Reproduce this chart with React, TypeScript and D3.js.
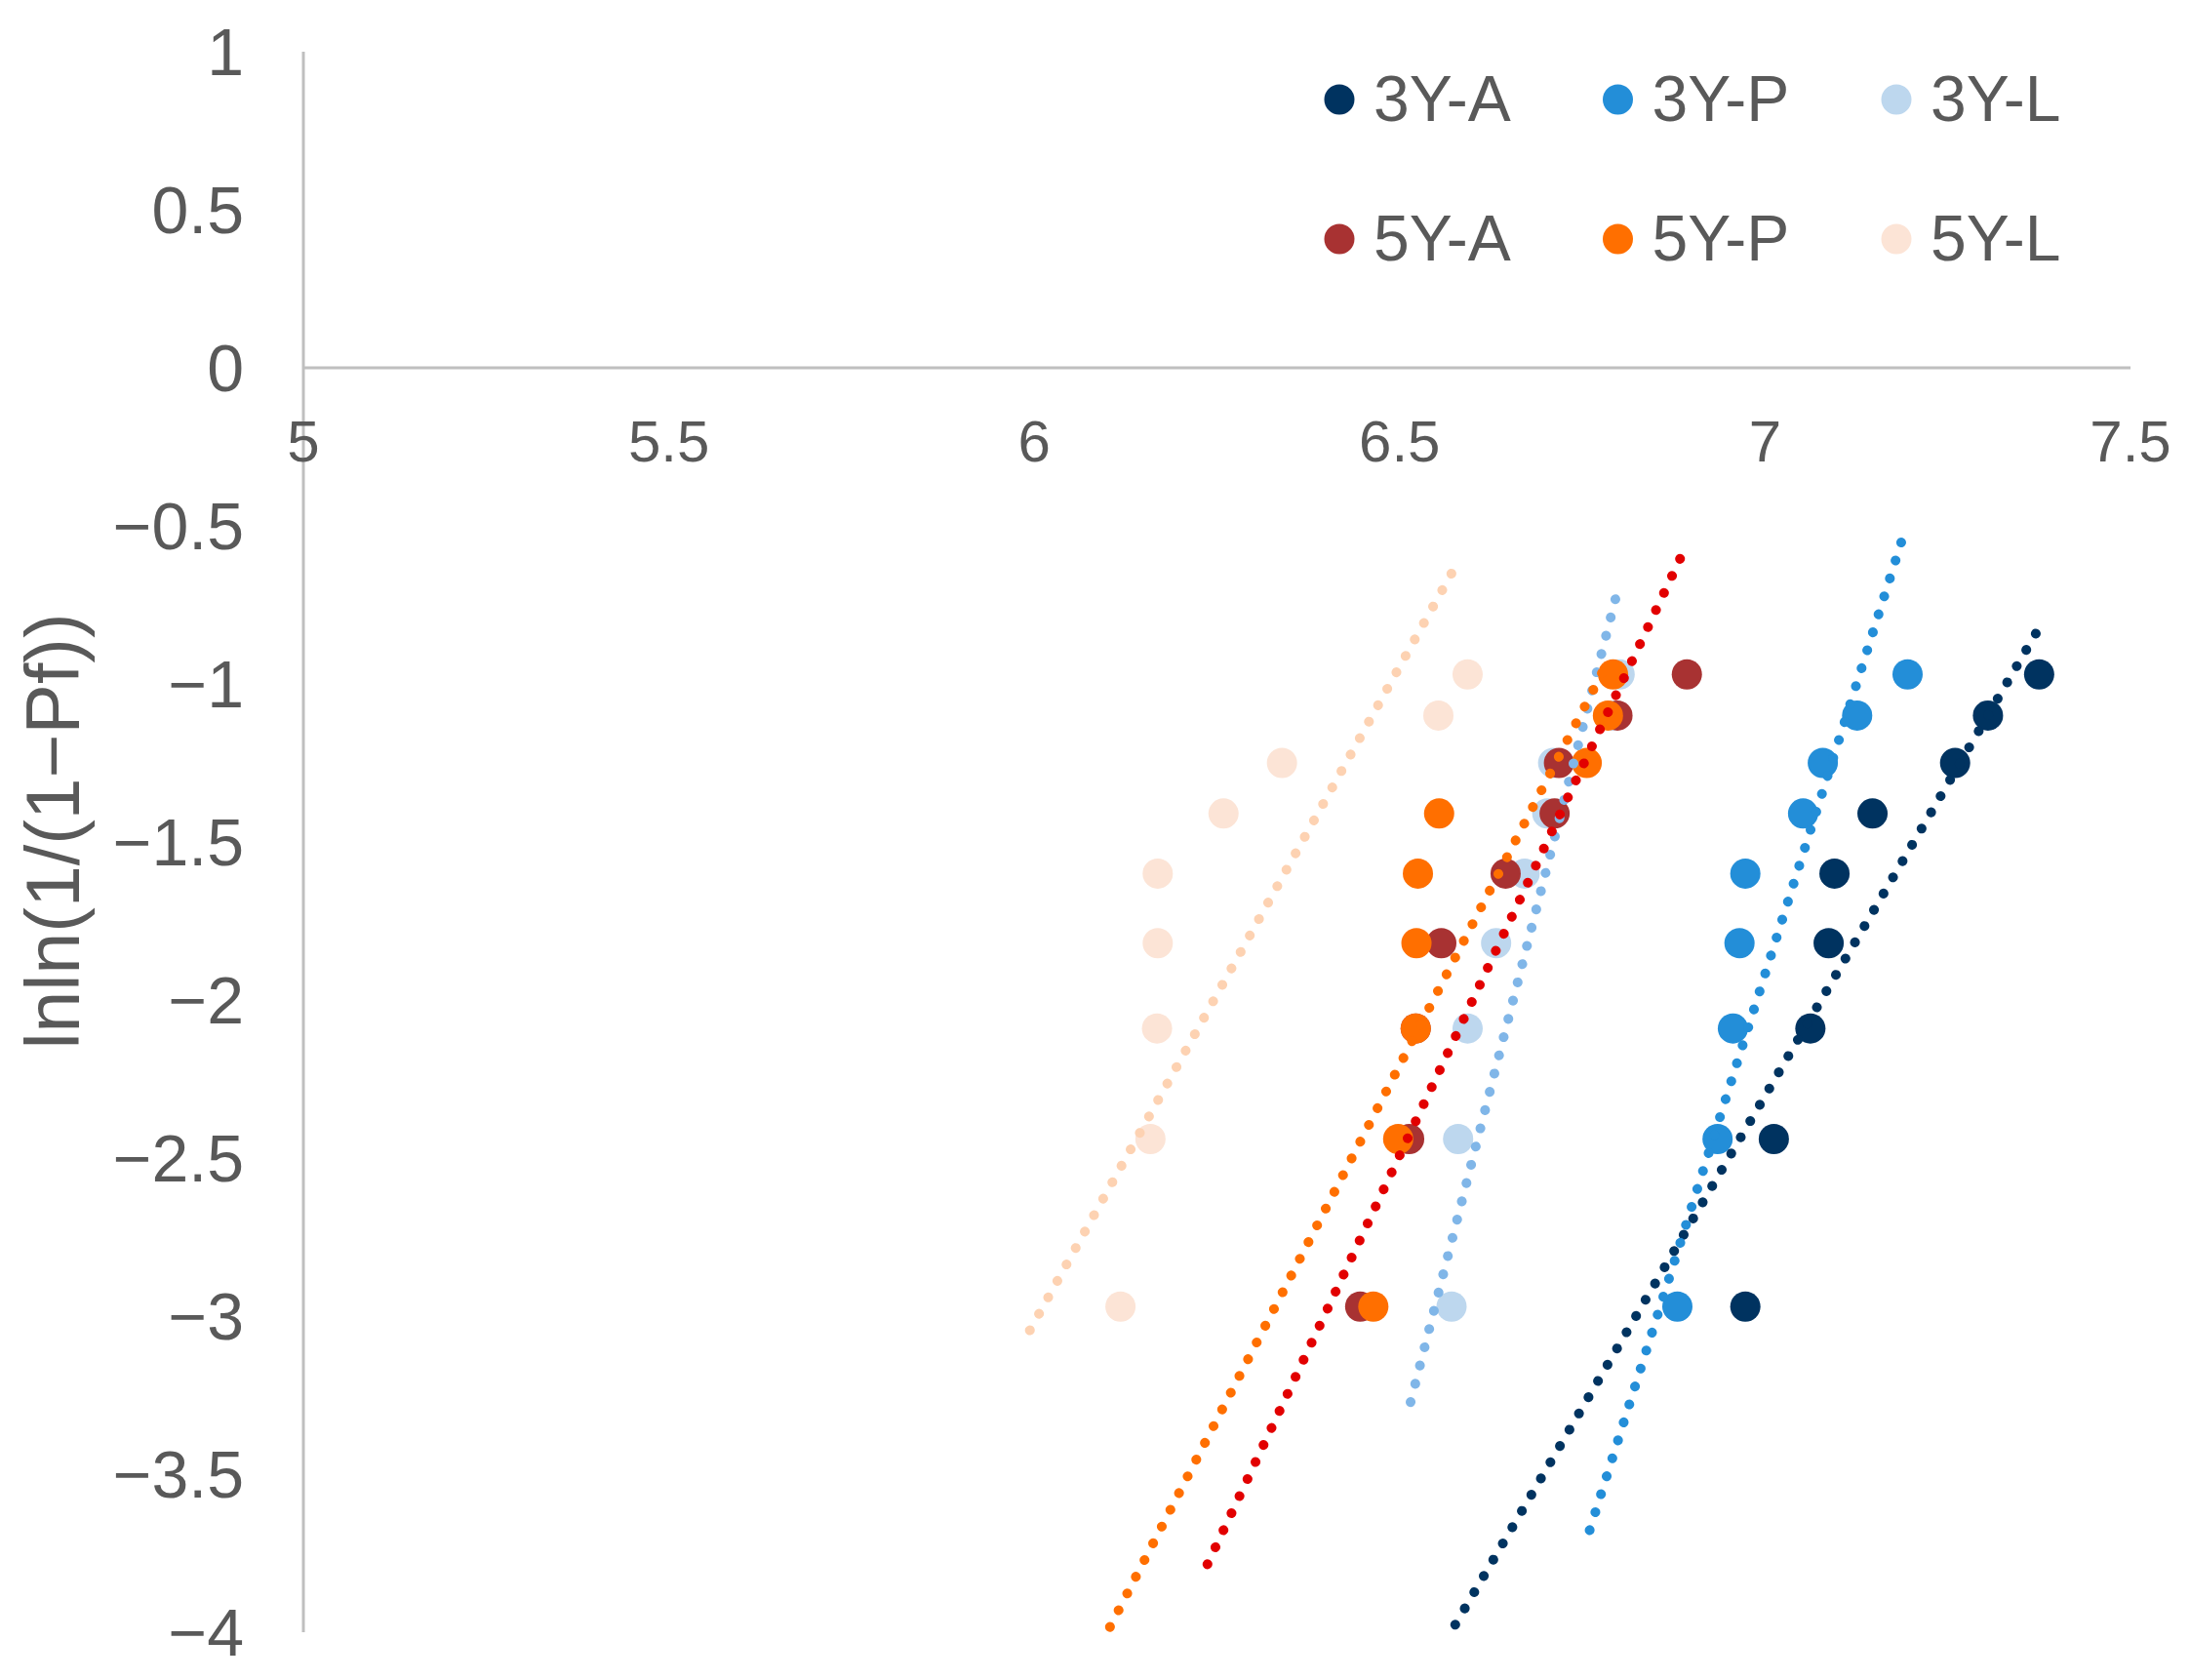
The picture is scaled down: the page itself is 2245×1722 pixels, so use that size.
import React from 'react';
import * as d3 from 'd3';

// y levels shared by every series: lnln(1/(1-Pf))
const levels = [-2.97, -2.44, -2.09, -1.82, -1.6, -1.41, -1.25, -1.1, -0.97];

// x values (ln of strength) for each series, same order as levels
const x3YA = [6.973, 7.012, 7.062, 7.087, 7.095, 7.147, 7.26, 7.305, 7.375];
const x3YP = [6.88, 6.935, 6.956, 6.965, 6.973, 7.052, 7.079, 7.126, 7.195];
const x3YL = [6.571, 6.58, 6.593, 6.632, 6.671, 6.702, 6.71, 6.79, 6.801];
const x5YA = [6.446, 6.513, 6.522, 6.557, 6.645, 6.712, 6.718, 6.798, 6.893];
const x5YP = [6.464, 6.498, 6.522, 6.523, 6.525, 6.554, 6.756, 6.785, 6.792];
const x5YL = [6.118, 6.159, 6.168, 6.169, 6.169, 6.259, 6.339, 6.553, 6.593];

const names = ['3Y-A', '3Y-P', '3Y-L', '5Y-A', '5Y-P', '5Y-L'];
const seriesX = [x3YA, x3YP, x3YL, x5YA, x5YP, x5YL];
const markerColors = ['#003360', '#238ed8', '#bdd7ee', '#a83232', '#ff6f00', '#fce4d6'];
const trendColors = ['#003360', '#238ed8', '#80b6e8', '#e20000', '#ff6f00', '#fdd2b2'];

// linear trendlines y = m*x + b, drawn over [from, to]
const trendSlope = [3.947, 7.33, 9.066, 4.919, 4.483, 4.15];
const trendIntercept = [-29.932, -53.228, -62.337, -34.465, -31.346, -27.92];
const trendFrom = [6.55, 6.76, 6.515, 6.237, 6.08, 5.994];
const trendTo = [7.377, 7.193, 6.801, 6.893, 6.785, 6.582];

const xTicks = [5, 5.5, 6, 6.5, 7, 7.5];
const yTicks = [1, 0.5, 0, -0.5, -1, -1.5, -2, -2.5, -3, -3.5, -4];

const FONT = "'Liberation Sans', Arial, sans-serif";
const TEXT = '#595959';
const AXIS = '#bfbfbf';

const fmt = (v: number) => (v < 0 ? '\u2212' + Math.abs(v) : String(v));

export default function App() {
  const width = 2245;
  const height = 1722;

  const x = d3.scaleLinear().domain([5, 7.5]).range([311, 2184]);
  const y = d3.scaleLinear().domain([-4, 1]).range([1673, 53]);

  const line = d3
    .line<[number, number]>()
    .x(d => x(d[0]))
    .y(d => y(d[1]));

  const r = 15.5;

  return (
    <svg
      width={width}
      height={height}
      style={{ position: 'absolute', left: 0, top: 0, background: '#fff' }}
      fontFamily={FONT}
    >
      <defs>
        <clipPath id="plot">
          <rect x={x(5)} y={y(1)} width={x(7.5) - x(5) + 40} height={y(-4) - y(1)} />
        </clipPath>
      </defs>

      {/* axes */}
      <line x1={x(5)} x2={x(5)} y1={y(1)} y2={y(-4)} stroke={AXIS} strokeWidth={3} />
      <line x1={x(5)} x2={x(7.5)} y1={y(0)} y2={y(0)} stroke={AXIS} strokeWidth={3} />

      {xTicks.map(t => (
        <text key={'xt' + t} x={x(t)} y={473} fontSize={60} fill={TEXT} textAnchor="middle">
          {fmt(t)}
        </text>
      ))}
      {yTicks.map(t => (
        <text key={'yt' + t} x={250} y={y(t)} dy="0.36em" fontSize={68} fill={TEXT} textAnchor="end">
          {fmt(t)}
        </text>
      ))}

      <text
        transform={`translate(81,852) rotate(-90)`}
        fontSize={77}
        fill={TEXT}
        textAnchor="middle"
      >
        lnln(1/(1{'\u2212'}Pf))
      </text>

      {/* markers */}
      {seriesX.map((xs, si) => (
        <g key={'s' + si} fill={markerColors[si]}>
          {xs.map((v, i) => (
            <circle key={i} cx={x(v)} cy={y(levels[i])} r={r} />
          ))}
        </g>
      ))}

      {/* dotted trendlines */}
      <g clipPath="url(#plot)" fill="none">
        {names.map((n, si) => {
          const pts: [number, number][] = [trendFrom[si], trendTo[si]].map(
            v => [v, trendSlope[si] * v + trendIntercept[si]] as [number, number]
          );
          return (
            <path
              key={'t' + n}
              d={line(pts) || ''}
              stroke={trendColors[si]}
              strokeWidth={10}
              strokeLinecap="round"
              strokeDasharray="0.1 19.2"
            />
          );
        })}
      </g>

      {/* legend */}
      {names.map((n, i) => {
        const col = i % 3;
        const row = Math.floor(i / 3);
        const mx = 1373 + col * 285.5;
        const my = 102 + row * 143;
        return (
          <g key={'lg' + n}>
            <circle cx={mx} cy={my} r={r} fill={markerColors[i]} />
            <text x={mx + 35} y={my + 22} fontSize={66} fill={TEXT}>
              {n}
            </text>
          </g>
        );
      })}
    </svg>
  );
}
